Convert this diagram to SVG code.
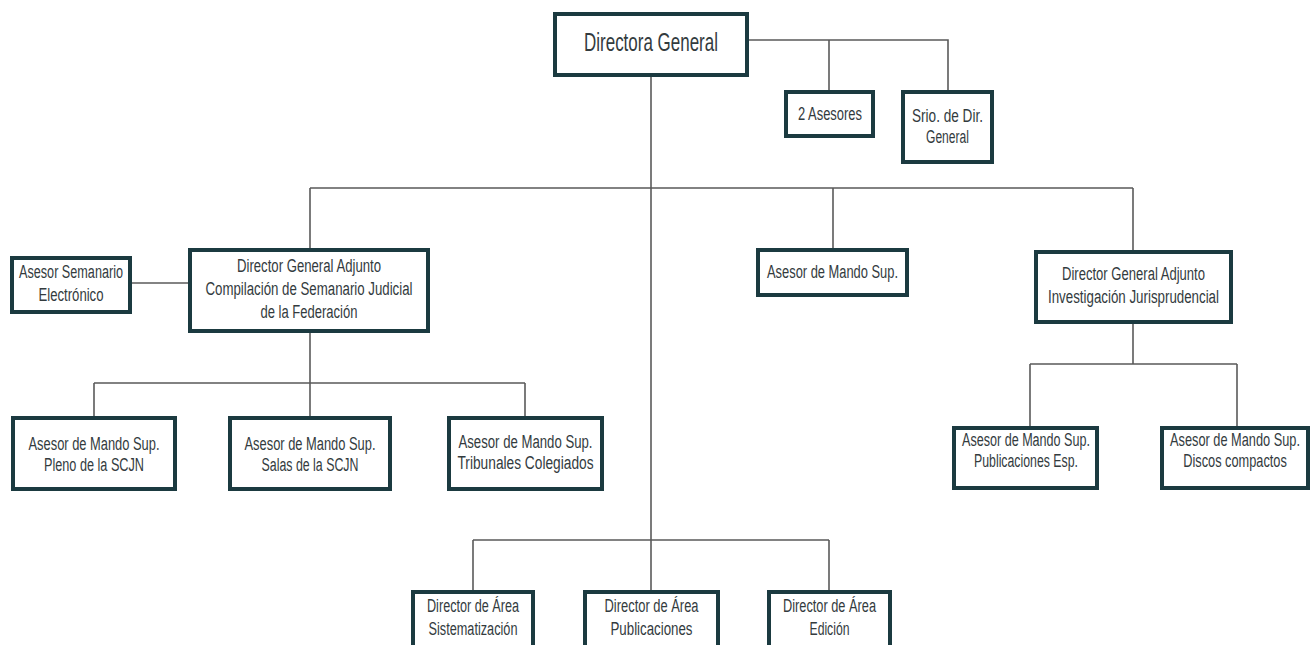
<svg xmlns="http://www.w3.org/2000/svg" width="1316" height="645" viewBox="0 0 1316 645">
<style>
.box{fill:#ffffff;stroke:#1b3a40;stroke-width:4}
.ln{fill:none;stroke:#5a5a5a;stroke-width:1.6}
text{font-family:"Liberation Sans",Arial,sans-serif;font-size:18px;fill:#333b3e;text-anchor:middle}
.big{font-size:25px}
</style>
<rect width="1316" height="645" fill="#ffffff"/>
<g id="connectors">
<path class="ln" d="M747 40H948V92M829 40V92"/>
<path class="ln" d="M651 75V592"/>
<path class="ln" d="M310 188H1133M310 188V250M833 188V250M1133 188V252"/>
<path class="ln" d="M130 283H190"/>
<path class="ln" d="M310 331V383M94 383H525M94 383V418M310 383V418M525 383V418"/>
<path class="ln" d="M1133 322V364M1030 364H1237M1030 364V428M1237 364V428"/>
<path class="ln" d="M473 540H829M473 540V592M829 540V592"/>
</g>
<g id="n-directora">
<rect class="box" x="555" y="14" width="192" height="61"/>
<text class="big" x="651" y="51" textLength="134" lengthAdjust="spacingAndGlyphs">Directora General</text>
</g>
<g id="n-asesores">
<rect class="box" x="786" y="92" width="87" height="44"/>
<text x="830" y="120" textLength="64" lengthAdjust="spacingAndGlyphs">2 Asesores</text>
</g>
<g id="n-srio">
<rect class="box" x="903" y="92" width="89" height="70"/>
<text x="947.5" y="122" textLength="71" lengthAdjust="spacingAndGlyphs">Srio. de Dir.</text>
<text x="947.5" y="143" textLength="43" lengthAdjust="spacingAndGlyphs">General</text>
</g>
<g id="n-semanario">
<rect class="box" x="12" y="258" width="118" height="54"/>
<text x="71" y="278" textLength="104" lengthAdjust="spacingAndGlyphs">Asesor Semanario</text>
<text x="71" y="301" textLength="65" lengthAdjust="spacingAndGlyphs">Electrónico</text>
</g>
<g id="n-dga-compilacion">
<rect class="box" x="190" y="250" width="238" height="81"/>
<text x="309" y="272" textLength="144" lengthAdjust="spacingAndGlyphs">Director General Adjunto</text>
<text x="309" y="295" textLength="207" lengthAdjust="spacingAndGlyphs">Compilación de Semanario Judicial</text>
<text x="309" y="318" textLength="97" lengthAdjust="spacingAndGlyphs">de la Federación</text>
</g>
<g id="n-asesor-mando">
<rect class="box" x="758" y="250" width="149" height="45"/>
<text x="832.5" y="278" textLength="131" lengthAdjust="spacingAndGlyphs">Asesor de Mando Sup.</text>
</g>
<g id="n-dga-investigacion">
<rect class="box" x="1036" y="252" width="195" height="70"/>
<text x="1133.5" y="280" textLength="143" lengthAdjust="spacingAndGlyphs">Director General Adjunto</text>
<text x="1133.5" y="303" textLength="171" lengthAdjust="spacingAndGlyphs">Investigación Jurisprudencial</text>
</g>
<g id="n-pleno">
<rect class="box" x="13" y="418" width="162" height="71"/>
<text x="94" y="450" textLength="131" lengthAdjust="spacingAndGlyphs">Asesor de Mando Sup.</text>
<text x="94" y="471" textLength="100" lengthAdjust="spacingAndGlyphs">Pleno de la SCJN</text>
</g>
<g id="n-salas">
<rect class="box" x="230" y="418" width="160" height="71"/>
<text x="310" y="450" textLength="131" lengthAdjust="spacingAndGlyphs">Asesor de Mando Sup.</text>
<text x="310" y="471" textLength="97" lengthAdjust="spacingAndGlyphs">Salas de la SCJN</text>
</g>
<g id="n-tribunales">
<rect class="box" x="449" y="418" width="153" height="71"/>
<text x="525.5" y="448" textLength="134" lengthAdjust="spacingAndGlyphs">Asesor de Mando Sup.</text>
<text x="525.5" y="469" textLength="136" lengthAdjust="spacingAndGlyphs">Tribunales Colegiados</text>
</g>
<g id="n-publicaciones-esp">
<rect class="box" x="954" y="428" width="143" height="60"/>
<text x="1026" y="446" textLength="128" lengthAdjust="spacingAndGlyphs">Asesor de Mando Sup.</text>
<text x="1026" y="467" textLength="104" lengthAdjust="spacingAndGlyphs">Publicaciones Esp.</text>
</g>
<g id="n-discos">
<rect class="box" x="1162" y="428" width="146" height="60"/>
<g transform="translate(1235 0) scale(0.71 1)">
<text x="0" y="446">Asesor de Mando Sup.</text>
<text x="0" y="467">Discos compactos</text>
</g>
</g>
<g id="n-sistematizacion">
<rect class="box" x="413" y="592" width="120" height="60"/>
<text x="473" y="612" textLength="92" lengthAdjust="spacingAndGlyphs">Director de Área</text>
<text x="473" y="635" textLength="89" lengthAdjust="spacingAndGlyphs">Sistematización</text>
</g>
<g id="n-publicaciones">
<rect class="box" x="585" y="592" width="133" height="60"/>
<text x="651.5" y="612" textLength="94" lengthAdjust="spacingAndGlyphs">Director de Área</text>
<text x="651.5" y="635" textLength="82" lengthAdjust="spacingAndGlyphs">Publicaciones</text>
</g>
<g id="n-edicion">
<rect class="box" x="769" y="592" width="121" height="60"/>
<text x="829.5" y="612" textLength="93" lengthAdjust="spacingAndGlyphs">Director de Área</text>
<text x="829.5" y="635" textLength="40" lengthAdjust="spacingAndGlyphs">Edición</text>
</g>
</svg>
